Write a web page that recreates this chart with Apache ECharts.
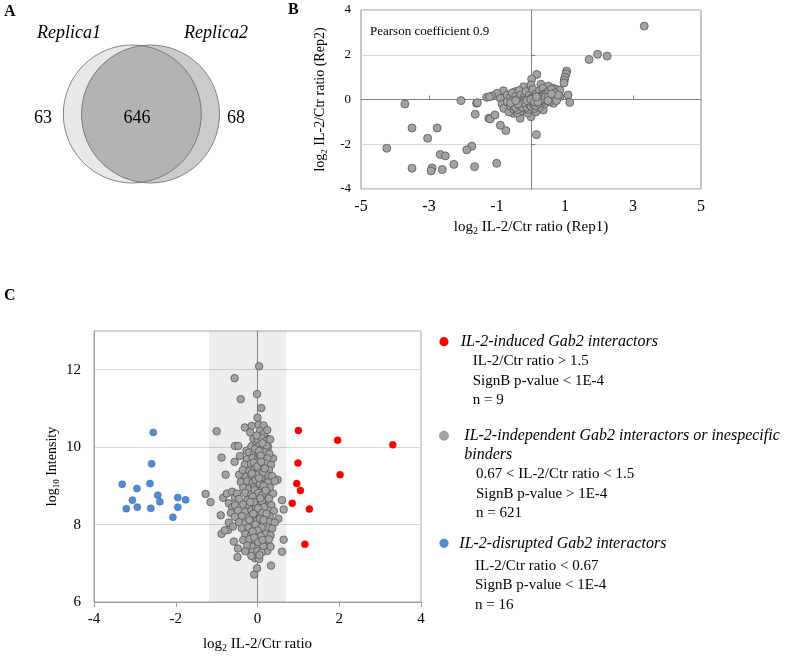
<!DOCTYPE html>
<html><head><meta charset="utf-8">
<script src="https://cdn.jsdelivr.net/npm/echarts@6/dist/echarts.min.js"></script>
<style>html,body{margin:0;padding:0;background:#fff}#c{width:787px;height:656px}</style>
</head><body><div id="c"></div>
<script>
// ---------- data ----------
const vennNames = ['Replica1', 'Replica2'];
const vennCounts = [63, 646, 68];
const pearsonText = 'Pearson coefficient 0.9';
const bLabelsX = [-5, -3, -1, 1, 3, 5];
const bTicksX = [-3, -1, 1, 3];
const bTicksY = [-2, 2];
const cLabelsY = [6, 8, 10, 12];
const shadeRange = [-1.19, 0.71];

// Panel B: log2 ratio Rep1 vs Rep2
const repOutliers = [
  [-3.71,-0.2],[-2.06,-0.05],[-1.6,-0.17],[-1.64,-0.66],[-1.24,-0.84],[-3.5,-1.27],[-2.76,-1.27],
  [-3.04,-1.73],[-4.24,-2.18],[-1.74,-2.09],[-1.89,-2.25],[-2.67,-2.46],[-2.52,-2.52],[-2.27,-2.9],
  [-3.5,-3.07],[-2.91,-3.06],[-2.94,-3.19],[-2.61,-3.13],[-1.66,-3.0],[-1.01,-2.85],
  [3.33,3.28],[1.71,1.79],[1.96,2.02],[2.24,1.94],[0.16,-1.57],[-0.74,-1.39],[-0.9,-1.15]
];
const repCluster = [
  [0.17,1.12],[0.02,0.91],[0,0.65],[0.29,0.68],[-0.22,0.57],[0.51,0.6],[0.65,0.5],[0.75,0.45],
  [0.85,0.42],[-0.47,0.35],[-0.81,0.39],[-1.0,0.28],[-1.15,0.16],[-1.3,0.1],[-1.22,0.12],[-1.58,-0.14],
  [-1.2,-0.87],[-1.06,-0.69],[-0.52,-0.62],[-0.32,-0.84],[0,-0.77],[0.36,-0.47],[0.66,-0.17],
  [0.85,0.13],[1.05,1.27],[1.03,1.15],[1.0,1.0],[0.98,0.87],[0.97,0.74],[1.09,0.2],[1.14,-0.13],
  [-0.9,0.05],[-0.85,-0.2],[-0.8,-0.4],[-0.7,0.2],[-0.7,-0.1],[-0.65,-0.55],[-0.6,0.1],[-0.6,-0.3],
  [-0.55,0.3],[-0.5,-0.15],[-0.5,-0.45],[-0.45,0.15],[-0.4,-0.6],[-0.4,-0.3],[-0.4,0.0],[-0.35,0.4],
  [-0.3,-0.2],[-0.3,0.2],[-0.25,-0.5],[-0.2,-0.1],[-0.2,0.1],[-0.15,-0.3],[-0.15,0.35],[-0.1,-0.6],
  [-0.1,0.0],[-0.05,-0.2],[-0.05,0.2],[0,-0.4],[0,0.05],[0.05,-0.1],[0.05,0.45],[0.1,-0.3],[0.1,0.1],
  [0.15,-0.55],[0.15,0.25],[0.2,-0.15],[0.2,0.05],[0.25,0.4],[0.25,-0.35],[0.3,0.15],[0.3,-0.05],
  [0.35,0.5],[0.4,0.25],[0.4,-0.2],[0.45,0.05],[0.5,0.35],[0.55,-0.1],[0.55,0.2],[0.6,0.45],
  [0.65,0.1],[0.7,0.3],[0.75,-0.05],[0.8,0.2],
  [-0.3,-0.35],[-0.25,-0.25],[-0.2,-0.3],[-0.2,-0.2],[-0.15,-0.15],[-0.1,-0.25],[-0.1,-0.1],
  [-0.05,-0.05],[-0.05,-0.3],[0,-0.2],[0,-0.1],[0.02,-0.15],[0.05,-0.25],[0.05,0],[0.08,-0.05],
  [0.1,-0.15],[0.12,0],[0.15,-0.1],[0.15,0.05],[0.18,-0.2],[0.2,0],[0.22,0.1],[0.25,-0.1],[0.25,0.05],
  [0.28,0.15],[0.3,0.05],[0.32,-0.12],[0.35,0.1],[0.38,0.2],[0.4,0.05],[-0.35,-0.1],[-0.28,-0.05],
  [-0.18,-0.4],[-0.08,-0.45],[0.1,-0.4],[0.45,0.15],[0.48,0.25],[-0.4,-0.45],[-0.5,-0.3],[-0.55,-0.05],
  [-0.45,-0.35],[-0.35,-0.25],[-0.3,-0.15],[-0.25,-0.35],[-0.2,-0.05],[-0.15,-0.22],[-0.12,-0.35],
  [-0.08,-0.15],[-0.04,-0.25],[0.0,-0.3],[0.03,-0.05],[0.06,-0.18],[0.09,-0.22],[0.12,-0.08],
  [0.14,-0.28],[0.18,-0.05],[0.22,-0.18],[0.24,0.0],[0.27,-0.06],[0.3,0.1],[0.33,-0.02],[0.36,0.04],
  [0.42,0.12],[0.5,0.1],[-0.22,-0.15],[-0.12,-0.05],[0.0,0.0],[0.1,-0.1],[0.2,-0.1],[0.16,0.12],
  [-0.38,-0.2],[-0.6,-0.15],[-0.45,-0.05],[0.5,-0.05],[0.6,0.25]
];

// Panel C: log2 ratio vs log10 intensity
const induced = [
  [1.0,10.43],[1.96,10.18],[3.31,10.06],[0.99,9.59],[2.02,9.29],[0.96,9.06],[1.05,8.88],
  [0.85,8.55],[1.27,8.40],[1.16,7.49]
];
const disrupted = [
  [-2.55,10.38],[-2.59,9.57],[-3.31,9.04],[-2.63,9.06],[-2.95,8.93],[-2.44,8.76],[-3.06,8.63],
  [-2.39,8.59],[-1.95,8.70],[-1.76,8.64],[-3.21,8.41],[-2.94,8.45],[-2.61,8.42],[-1.95,8.45],[-2.07,8.19]
];
const independent = [
  [0.04,12.09],[-0.56,11.78],[-0.01,11.37],[-0.41,11.24],[0.09,11.01],[-1.0,10.41],[0.0,10.76],
  [-0.31,10.51],[-0.14,10.55],[0.03,10.58],[0.15,10.56],[0.26,10.21],[-0.88,9.73],[0.38,9.71],
  [-0.56,9.62],[-0.43,9.77],[-0.55,10.03],[-0.47,10.03],[-0.27,9.91],[-0.78,9.29],[-0.45,9.29],
  [0.49,9.16],[-1.27,8.79],[-1.15,8.58],[-0.84,8.69],[-0.9,8.24],[-0.88,7.76],[-0.72,7.86],
  [-0.58,7.56],[-0.48,7.38],[-0.49,7.16],[-0.08,6.71],[-0.01,6.87],[-0.06,7.13],[0.04,7.11],
  [0.33,6.94],[0.6,8.63],[0.64,8.39],[0.51,8.15],[0.64,7.61],[0.6,7.30],[0.24,7.32],[0.32,7.43],
  [0.26,10.01],[-0.75,8.8],[-0.62,8.85],[-0.55,8.7],[-0.7,8.55],[-0.62,8.45],[-0.7,8.05],
  [-0.8,7.85],[-0.6,7.95],[-0.65,8.3],
  [-0.18,10.38],[0.06,10.42],[0.16,10.35],[0.24,10.44],
  [-0.1,10.22],[0.01,10.18],[0.11,10.24],[0.19,10.15],[0.31,10.2],
  [-0.15,10.02],[-0.04,9.98],[0.05,10.05],[0.13,9.96],[0.22,10.03],
  [-0.21,9.86],[-0.08,9.84],[0.02,9.88],[0.1,9.82],[0.18,9.87],[0.29,9.83],
  [-0.26,9.69],[-0.12,9.72],[0.0,9.68],[0.08,9.73],[0.15,9.66],[0.24,9.71],
  [-0.31,9.55],[-0.16,9.57],[-0.05,9.52],[0.05,9.56],[0.12,9.53],[0.2,9.58],[0.33,9.54],
  [-0.36,9.41],[-0.2,9.38],[-0.08,9.42],[0.02,9.39],[0.1,9.43],[0.18,9.37],[0.28,9.41],
  [-0.28,9.24],[-0.15,9.27],[-0.03,9.22],[0.06,9.26],[0.14,9.23],[0.22,9.28],[0.36,9.25],
  [-0.41,9.1],[-0.25,9.12],[-0.12,9.08],[0.0,9.11],[0.08,9.07],[0.16,9.13],[0.26,9.09],[0.42,9.12],
  [-0.35,8.96],[-0.2,8.93],[-0.08,8.97],[0.03,8.94],[0.12,8.98],[0.2,8.92],[0.3,8.96],
  [-0.5,8.8],[-0.3,8.82],[-0.15,8.78],[-0.04,8.81],[0.06,8.79],[0.14,8.83],[0.24,8.77],[0.38,8.8],
  [-0.45,8.66],[-0.25,8.63],[-0.1,8.67],[0.0,8.64],[0.1,8.66],[0.18,8.62],[0.28,8.67],
  [-0.55,8.5],[-0.35,8.52],[-0.2,8.48],[-0.06,8.51],[0.04,8.49],[0.12,8.53],[0.22,8.47],[0.34,8.5],
  [-0.48,8.36],[-0.3,8.33],[-0.15,8.37],[-0.02,8.34],[0.08,8.36],[0.16,8.32],[0.26,8.37],[0.4,8.35],
  [-0.55,8.2],[-0.38,8.22],[-0.22,8.18],[-0.08,8.21],[0.04,8.19],[0.12,8.23],[0.2,8.17],[0.3,8.21],
  [-0.45,8.06],[-0.3,8.03],[-0.15,8.07],[-0.02,8.04],[0.08,8.06],[0.18,8.02],[0.28,8.07],[0.42,8.05],
  [-0.38,7.9],[-0.22,7.92],[-0.08,7.88],[0.04,7.91],[0.14,7.89],[0.24,7.93],[0.36,7.9],
  [-0.3,7.76],[-0.15,7.73],[-0.02,7.77],[0.1,7.74],[0.2,7.76],[0.32,7.72],
  [-0.35,7.6],[-0.2,7.62],[-0.05,7.58],[0.06,7.61],[0.18,7.59],[0.28,7.62],
  [-0.25,7.46],[-0.1,7.43],[0.02,7.47],[0.14,7.44],
  [-0.3,7.31],[-0.12,7.29],[0.0,7.32],[0.1,7.28],
  [-0.15,7.19],[0.05,7.21],
  [0.02,9.0],[0.07,8.9],[0.0,8.7],[0.05,8.55],[0.09,8.4],[0.03,8.25],[-0.02,8.1],[0.06,7.95],
  [0.01,9.3],[0.07,9.5],[0.04,9.65],[0.09,9.2],[-0.03,8.85],[0.11,8.6],[0.13,8.0],[-0.04,8.45],
  [-0.06,9.95],[0.04,9.9],[0.12,10.1],[-0.02,10.3],[0.08,9.78],[-0.09,9.6],[0.03,9.45],[0.14,9.35],
  [-0.05,9.15],[0.06,9.05],[0.15,9.0],[-0.07,8.9],[0.02,8.82],[0.1,8.75],[-0.12,8.72],[0.07,8.68],
  [0.16,8.45],[-0.09,8.58],[0.01,8.42],[0.12,8.3],[-0.1,8.28],[0.06,8.15],[-0.05,8.0],[0.1,7.92],
  [0.0,7.85],[-0.12,7.82],[0.08,7.7],[-0.08,7.66],[0.02,7.55],[0.12,7.6],[0.04,9.2],[-0.01,9.5],
  [0.09,9.62],[0.18,9.45],[-0.14,9.32],[0.2,8.88],[-0.18,8.58],[0.22,8.28],[-0.2,8.12],[0.15,8.12]
];

const legendTitles = ['IL-2-induced Gab2 interactors', 'IL-2-independent Gab2 interactors or inespecific', 'IL-2-disrupted Gab2 interactors'];
const legendTitle2 = ['', 'binders', ''];
const legendDetails = [
  ['IL-2/Ctr ratio > 1.5', 'SignB p-value < 1E-4', 'n = 9'],
  ['0.67 < IL-2/Ctr ratio < 1.5', 'SignB p-value > 1E-4', 'n = 621'],
  ['IL-2/Ctr ratio < 0.67', 'SignB p-value < 1E-4', 'n = 16']
];
const groupColors = ['#ff0000', '#a3a3a3', '#4f8bd6'];

// ---------- chart ----------
const SERIF = '"Liberation Serif", "Times New Roman", serif';
const chart = echarts.init(document.getElementById('c'), null, {renderer: 'canvas'});

function richName(sub, rest, size) {
  return {
    text: '{n|log}{s|' + sub + '}{n| ' + rest + '}',
    style: {
      fontFamily: SERIF, fontSize: size, color: '#000',
      rich: {
        n: {fontFamily: SERIF, fontSize: size, lineHeight: 18, color: '#000'},
        s: {fontFamily: SERIF, fontSize: Math.round(size * 0.65), lineHeight: 10, verticalAlign: 'bottom', color: '#000'}
      }
    }
  };
}
const bxName = richName('2', 'IL-2/Ctr ratio (Rep1)', 15);
const byName = richName('2', 'IL-2/Ctr ratio (Rep2)', 14);
const cxName = richName('2', 'IL-2/Ctr ratio', 15);
const cyName = richName('10', 'Intensity', 14);

const graphics = [];
function txt(text, x, y, font, align) {
  graphics.push({
    type: 'text', x: x, y: y, silent: true,
    style: {text: text, font: font, fill: '#000', textAlign: align || 'left', textVerticalAlign: 'middle', verticalAlign: 'middle'}
  });
}
// panel letters
txt('A', 4, 12, 'bold 16px ' + SERIF);
txt('B', 288, 10, 'bold 16px ' + SERIF);
txt('C', 4, 296, 'bold 16px ' + SERIF);

// Venn (panel A)
const L = {cx: 132.3, cy: 114, r: 69}, R = {cx: 150.5, cy: 114, r: 69};
const half = (R.cx - L.cx) / 2;
const alpha = Math.acos(half / L.r);
const lens = [];
for (let i = 0; i <= 60; i++) {
  const t = -alpha + (2 * alpha) * i / 60;
  lens.push([L.cx + L.r * Math.cos(t), L.cy + L.r * Math.sin(t)]);
}
for (let i = 0; i <= 60; i++) {
  const t = alpha - (2 * alpha) * i / 60;
  lens.push([R.cx - R.r * Math.cos(t), R.cy + R.r * Math.sin(t)]);
}
graphics.push({type: 'circle', shape: {cx: L.cx, cy: L.cy, r: L.r}, style: {fill: '#e8e8e8'}, silent: true});
graphics.push({type: 'circle', shape: {cx: R.cx, cy: R.cy, r: R.r}, style: {fill: '#cbcbcb'}, silent: true});
graphics.push({type: 'polygon', shape: {points: lens}, style: {fill: '#b3b3b3'}, silent: true});
graphics.push({type: 'circle', shape: {cx: L.cx, cy: L.cy, r: L.r}, style: {fill: 'none', stroke: '#6a6a6a', lineWidth: 0.8}, silent: true});
graphics.push({type: 'circle', shape: {cx: R.cx, cy: R.cy, r: R.r}, style: {fill: 'none', stroke: '#6a6a6a', lineWidth: 0.8}, silent: true});
txt(vennNames[0], 69, 33, 'italic 18px ' + SERIF, 'center');
txt(vennNames[1], 216, 33, 'italic 18px ' + SERIF, 'center');
txt(String(vennCounts[0]), 43, 118, '18px ' + SERIF, 'center');
txt(String(vennCounts[1]), 137, 118, '18px ' + SERIF, 'center');
txt(String(vennCounts[2]), 236, 118, '18px ' + SERIF, 'center');

// Pearson text
txt(pearsonText, 370, 32, '13px ' + SERIF);

// Legend of panel C
const legTitleY = [341.7, 435.7, 543.3];
const legTitleX = [460.7, 464.3, 459.3];
const legDetailX = [472.7, 476, 475];
const legDetailY0 = [361, 474.3, 565.7];
for (let g = 0; g < 3; g++) {
  graphics.push({type: 'circle', shape: {cx: 444, cy: legTitleY[g], r: 4.6}, silent: true,
    style: {fill: groupColors[g], stroke: g === 1 ? '#8a8a8a' : 'none', lineWidth: 0.6}});
  txt(legendTitles[g], legTitleX[g], legTitleY[g], 'italic 16px ' + SERIF);
  if (legendTitle2[g]) txt(legendTitle2[g], legTitleX[g], legTitleY[g] + 19.5, 'italic 16px ' + SERIF);
  legendDetails[g].forEach((line, i) => txt(line, legDetailX[g], legDetailY0[g] + i * 19.6, '15px ' + SERIF));
}

const axisLabelBase = {color: '#000', fontFamily: SERIF};

const option = {
  animation: false,
  backgroundColor: '#fff',
  grid: [
    {left: 361, top: 10, width: 340, height: 179, show: true, borderColor: '#8c8c8c', borderWidth: 1},
    {left: 94, top: 331, width: 327, height: 271, show: true, borderColor: '#a6a6a6', borderWidth: 1}
  ],
  xAxis: [
    {gridIndex: 0, type: 'value', min: -5, max: 5, interval: 1,
     axisLine: {show: false, onZero: false}, axisTick: {show: false}, splitLine: {show: false},
     axisLabel: Object.assign({fontSize: 16, margin: 10, customValues: bLabelsX}, axisLabelBase),
     name: bxName.text, nameLocation: 'middle', nameGap: 29, nameTextStyle: bxName.style},
    {gridIndex: 0, type: 'value', min: -5, max: 5, interval: 1,
     axisLine: {show: true, onZero: true, lineStyle: {color: '#808080', width: 1}},
     axisTick: {show: true, length: 4, customValues: bTicksX, lineStyle: {color: '#808080'}},
     axisLabel: {show: false}, splitLine: {show: false}},
    {gridIndex: 1, type: 'value', min: -4, max: 4, interval: 2,
     axisLine: {show: true, onZero: false, lineStyle: {color: '#a0a0a0'}},
     axisTick: {show: true, length: 5, lineStyle: {color: '#a0a0a0'}}, splitLine: {show: false},
     axisLabel: Object.assign({fontSize: 15, margin: 10}, axisLabelBase),
     name: cxName.text, nameLocation: 'middle', nameGap: 33, nameTextStyle: cxName.style}
  ],
  yAxis: [
    {gridIndex: 0, type: 'value', min: -4, max: 4, interval: 2,
     axisLine: {show: false, onZero: false}, axisTick: {show: false},
     splitLine: {show: true, lineStyle: {color: '#d9d9d9'}},
     axisLabel: Object.assign({fontSize: 13, margin: 10}, axisLabelBase),
     name: byName.text, nameLocation: 'middle', nameGap: 32, nameTextStyle: byName.style},
    {gridIndex: 0, type: 'value', min: -4, max: 4, interval: 2,
     axisLine: {show: true, onZero: true, lineStyle: {color: '#808080', width: 1}},
     axisTick: {show: true, length: 4, customValues: bTicksY, lineStyle: {color: '#808080'}},
     axisLabel: {show: false}, splitLine: {show: false}},
    {gridIndex: 1, type: 'value', min: 6, max: 13, interval: 2,
     axisLine: {show: true, onZero: false, lineStyle: {color: '#a0a0a0'}}, axisTick: {show: false},
     splitLine: {show: true, lineStyle: {color: '#d9d9d9'}},
     axisLabel: Object.assign({fontSize: 15, margin: 13, customValues: cLabelsY}, axisLabelBase),
     name: cyName.text, nameLocation: 'middle', nameGap: 33, nameTextStyle: cyName.style},
    {gridIndex: 1, type: 'value', min: 6, max: 13, interval: 1,
     axisLine: {show: true, onZero: true, lineStyle: {color: '#8a8a8a', width: 1}},
     axisTick: {show: false}, axisLabel: {show: false}, splitLine: {show: false}}
  ],
  series: [
    {type: 'scatter', xAxisIndex: 0, yAxisIndex: 0, data: repOutliers.concat(repCluster), symbolSize: 8,
     itemStyle: {color: '#a3a3a3', borderColor: '#555', borderWidth: 0.8, opacity: 1}, silent: true},
    {type: 'scatter', xAxisIndex: 2, yAxisIndex: 2, data: independent, symbolSize: 7.5,
     itemStyle: {color: groupColors[1], borderColor: '#555', borderWidth: 0.8, opacity: 1}, silent: true,
     markArea: {silent: true, itemStyle: {color: 'rgba(0,0,0,0.065)'},
       data: [[{xAxis: shadeRange[0], yAxis: 6}, {xAxis: shadeRange[1], yAxis: 13}]]}},
    {type: 'scatter', xAxisIndex: 2, yAxisIndex: 2, data: induced, symbolSize: 7,
     itemStyle: {color: groupColors[0], borderColor: '#e00000', borderWidth: 0.5, opacity: 1}, silent: true},
    {type: 'scatter', xAxisIndex: 2, yAxisIndex: 2, data: disrupted, symbolSize: 7,
     itemStyle: {color: groupColors[2], borderColor: '#3a6db0', borderWidth: 0.6, opacity: 1}, silent: true}
  ],
  graphic: graphics
};
chart.setOption(option);
</script>
</body></html>
